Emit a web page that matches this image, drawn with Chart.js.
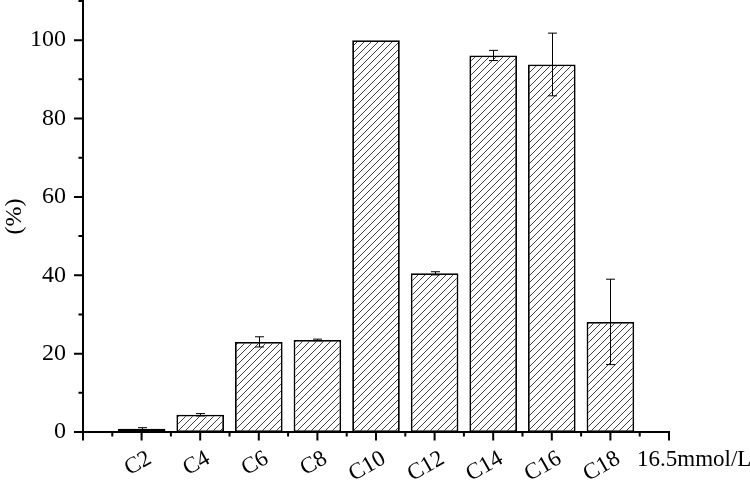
<!DOCTYPE html>
<html>
<head>
<meta charset="utf-8">
<script src="https://cdn.jsdelivr.net/npm/chart.js@4"></script>
<style>
html,body{margin:0;padding:0;background:#fff;}
#wrap{width:750px;height:482px;position:relative;}
</style>
</head>
<body>
<div id="wrap"><canvas id="c" width="750" height="482"></canvas></div>
<script>
const categories = ['C2','C4','C6','C8','C10','C12','C14','C16','C18'];
const values = [0.8, 4.4, 23.0, 23.5, 100, 40.5, 96.1, 93.8, 28.1];
const errors = [0.3, 0.3, 1.3, 0.2, 0, 0.4, 1.3, 8.0, 10.9];
const yTickStep = 10;
const yMax = 110;
const unitLabel = '16.5mmol/L';
const yTitle = '(%)';

const FONT = '"Liberation Serif", "Times New Roman", serif';

function hatch() {
  const s = 7;
  const c = document.createElement('canvas'); c.width = s; c.height = s;
  const g = c.getContext('2d');
  g.fillStyle = '#fff'; g.fillRect(0, 0, s, s);
  g.strokeStyle = '#2a2a2a'; g.lineWidth = 0.9;
  g.beginPath();
  g.moveTo(0, s); g.lineTo(s, 0);
  g.moveTo(-1, 1); g.lineTo(1, -1);
  g.moveTo(s - 1, s + 1); g.lineTo(s + 1, s - 1);
  g.stroke();
  return g.createPattern(c, 'repeat');
}

const points = categories.map((c, i) => ({x: i + 1, y: values[i]}));

const tickPlugin = {
  id: 'ticksAndErrors',
  afterDatasetsDraw(chart) {
    const ctx = chart.ctx;
    const xs = chart.scales.x, ys = chart.scales.y;
    ctx.save();
    ctx.strokeStyle = '#000';
    ctx.lineWidth = 1;
    values.forEach((v, i) => {
      const e = errors[i];
      if (!e) return;
      const px = Math.round(xs.getPixelForValue(i + 1)) + 0.5;
      const top = ys.getPixelForValue(v + e);
      const bot = ys.getPixelForValue(v - e);
      ctx.beginPath();
      ctx.moveTo(px, top); ctx.lineTo(px, bot);
      ctx.moveTo(px - 4.5, top); ctx.lineTo(px + 4.5, top);
      ctx.moveTo(px - 4.5, bot); ctx.lineTo(px + 4.5, bot);
      ctx.stroke();
    });
    ctx.restore();
  },
  afterDraw(chart) {
    const ctx = chart.ctx;
    const xs = chart.scales.x, ys = chart.scales.y;
    const area = chart.chartArea;
    ctx.save();
    ctx.strokeStyle = '#000';
    ctx.lineWidth = 2;
    ctx.beginPath();
    xs.ticks.forEach(t => {
      const px = xs.getPixelForValue(t.value);
      const major = Number.isInteger(t.value);
      ctx.moveTo(px, area.bottom);
      ctx.lineTo(px, area.bottom + (major ? 8.5 : 4.5));
    });
    ys.ticks.forEach(t => {
      const py = ys.getPixelForValue(t.value);
      const major = t.value % 20 === 0;
      ctx.moveTo(area.left, py);
      ctx.lineTo(area.left - (major ? 9 : 4.5), py);
    });
    ctx.stroke();
    ctx.fillStyle = '#000';
    ctx.font = '23px ' + FONT;
    ctx.textAlign = 'left';
    ctx.textBaseline = 'alphabetic';
    ctx.fillText(unitLabel, area.right - 32, area.bottom + 34);
    ctx.restore();
  }
};

new Chart(document.getElementById('c'), {
  type: 'bar',
  data: {
    datasets: [{
      data: points,
      backgroundColor: hatch(),
      borderColor: '#000',
      borderWidth: 1.8,
      borderSkipped: false,
      categoryPercentage: 1,
      barPercentage: 1.625
    }]
  },
  options: {
    responsive: false,
    animation: false,
    layout: {padding: {top: 1, right: 81, left: 0, bottom: 0}},
    plugins: {legend: {display: false}, tooltip: {enabled: false}},
    scales: {
      x: {
        type: 'linear',
        offset: false,
        min: 0,
        max: categories.length + 1,
        grid: {display: false, offset: false, drawTicks: true, tickLength: 8},
        border: {display: true, color: '#000', width: 2},
        ticks: {
          stepSize: 0.5,
          autoSkip: false,
          minRotation: 30,
          maxRotation: 30,
          padding: 5,
          labelOffset: 8,
          color: '#000',
          font: {family: FONT, size: 23},
          callback: (v) => (Number.isInteger(v) && v >= 1 && v <= categories.length) ? categories[v - 1] : ''
        },
        afterFit: (s) => { s.height = 50; s.paddingLeft = 0; s.paddingRight = 0; }
      },
      y: {
        min: 0,
        max: yMax,
        grid: {display: false, drawTicks: true, tickLength: 9},
        border: {display: true, color: '#000', width: 2},
        ticks: {
          stepSize: yTickStep,
          padding: 8,
          color: '#000',
          font: {family: FONT, size: 24},
          callback: (v) => (v % 20 === 0 && v <= 100) ? String(v) : ''
        },
        title: {display: true, text: yTitle, color: '#000', font: {family: FONT, size: 24}, padding: 0},
        afterFit: (s) => { s.width = 83; s.paddingTop = 0; s.paddingBottom = 0; }
      }
    }
  },
  plugins: [tickPlugin]
});
</script>
</body>
</html>
